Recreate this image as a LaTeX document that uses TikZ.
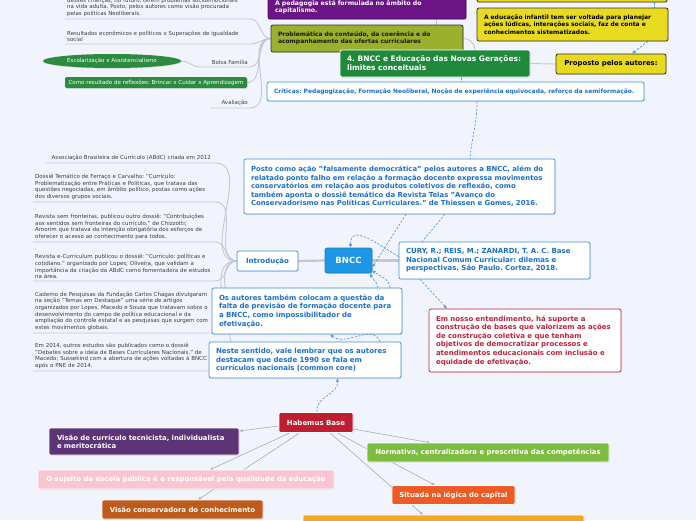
\documentclass[tikz,border=0pt]{standalone}
\usepackage{fontspec}
\setmainfont{DejaVu Sans}
\usepackage{xcolor}
\usepackage{tikz}
\usetikzlibrary{arrows.meta, positioning, shapes.geometric, shadows, backgrounds}

\definecolor{bgpage}{HTML}{F1F4FC}
\definecolor{txtgrey}{HTML}{3C3C3C}
\definecolor{linegrey}{HTML}{C3C7D0}
\definecolor{arrowgrey}{HTML}{A9ADB5}
\definecolor{linkblue}{HTML}{5A9BE0}
\definecolor{boxblue}{HTML}{3C8EE0}
\definecolor{txtblue}{HTML}{1A6FD0}
\definecolor{bnccblue}{HTML}{1E96E8}
\definecolor{secgreen}{HTML}{1F8A3B}
\definecolor{olive}{HTML}{9BB02C}
\definecolor{pedapurple}{HTML}{6B1486}
\definecolor{yel}{HTML}{E8DA1E}
\definecolor{redtxt}{HTML}{C0233B}
\definecolor{habred}{HTML}{BE1E2D}
\definecolor{vispurple}{HTML}{5D3577}
\definecolor{pinkbox}{HTML}{F8C6D2}
\definecolor{consbrown}{HTML}{BF5A1D}
\definecolor{normgreen}{HTML}{7DBC41}
\definecolor{sitorange}{HTML}{EE5A24}
\definecolor{ylworange}{HTML}{F6A623}
\definecolor{ellgreen}{HTML}{2C8B3E}

\frenchspacing

\begin{document}
\begin{tikzpicture}[
        x=1pt,
        y=-1pt,
        item/.style={font=\fontsize{5.5}{6.7}\selectfont,text=txtgrey,align=left,inner xsep=2pt,inner ysep=2pt,anchor=south west},
        branch/.style={draw=linegrey,line width=0.9pt},
        trunk/.style={draw=linegrey,line width=2.2pt},
        link/.style={draw=linkblue,line width=0.7pt,dash pattern=on 2.2pt off 1.6pt},
        linkarrow/.style={link,-{Latex[length=3.5pt,width=3.5pt]}},
        harrow/.style={draw=arrowgrey,line width=0.6pt,-{Latex[length=3pt,width=3pt]}},
        boxshadow/.style={drop shadow={shadow xshift=0.7pt,shadow yshift=-0.7pt,opacity=0.25}},
        box/.style={rounded corners=2pt,line width=0.7pt,align=left,inner xsep=7pt,inner ysep=2pt,boxshadow},
        bluebox/.style={box,draw=boxblue,fill=white,text=txtblue,font=\bfseries\fontsize{7}{8.6}\selectfont},
        darkbox/.style={box,draw=black!80,line width=0.8pt,font=\bfseries\fontsize{6}{7.4}\selectfont},
        solidbox/.style={rounded corners=1.5pt,draw=white,line width=0.6pt,text=white,align=center,inner sep=0pt,minimum height=19pt,font=\bfseries\fontsize{6.9}{8}\selectfont,boxshadow}
    ]
        \useasboundingbox (0,0) rectangle (696,520);

        % upper block: BNCC e educacao das novas geracoes
        \node[item,text width=181pt] (neo) at (65,19) {desses crianças, no futuro, terem problemas socioemocionais\\na vida adulta. Posto, pelos autores como visão procurada\\pelas políticas Neoliberais.};
        \node[item,text width=181pt] (res) at (65,44) {Resultados econômicos e políticos x Superações de igualdade\\social};
        \node[item,anchor=south east] (bolsa) at (250,67) {Bolsa Família};
        \node[ellipse,fill=ellgreen,text=white,minimum width=138pt,minimum height=14pt,inner sep=0pt,font=\fontsize{5.5}{6.7}\selectfont,boxshadow] (esc) at (112,61) {Escolarização x Assistencialismo};
        \node[rounded corners=1.5pt,fill=ellgreen,text=white,minimum width=182pt,minimum height=11pt,inner sep=0pt,font=\fontsize{5.55}{6.7}\selectfont,boxshadow] (brincar) at (156,82.5) {Como resultado de reflexões: Brincar x Cuidar x Aprendizagem};
        \node[item,anchor=south east] (aval) at (250,108) {Avaliação};

        \node[darkbox,fill=pedapurple,text=white,draw=pedapurple!70!black,text width=184pt,minimum height=24pt,font=\bfseries\fontsize{6.2}{7.6}\selectfont] (peda) at (367,7) {A pedagogia está formulada no âmbito do\\capitalismo.};
        \node[darkbox,fill=olive,text=black!90,text width=178pt,minimum height=27pt] (prob) at (367,38.5) {Problemática do conteúdo, da coerência e do\\acompanhamento das ofertas curriculares};
        \node[box,fill=secgreen,draw=white,text=white,text width=176pt,minimum height=27pt,font=\bfseries\fontsize{7.5}{9}\selectfont] (sec) at (435,63.5) {4. BNCC e Educação das Novas Gerações:\\limites conceituais};
        \node[darkbox,fill=yel,text width=176pt,minimum height=20pt] (yelA) at (572,-8) {};
        \node[darkbox,fill=yel,text width=177pt,minimum height=33pt,font=\bfseries\fontsize{6}{7.3}\selectfont] (yelB) at (572.5,24.5) {A educação infantil tem ser voltada para planejar\\ações lúdicas, interações sociais, faz de conta e\\conhecimentos sistematizados.};
        \node[darkbox,fill=yel,align=center,inner xsep=0pt,minimum width=110pt,minimum height=20pt,font=\bfseries\fontsize{6.9}{8}\selectfont] (prop) at (611,64) {Proposto pelos autores:};
        \node[bluebox,text width=363pt,minimum height=19pt,font=\bfseries\fontsize{5.95}{7}\selectfont] (crit) at (455.5,91.5) {Críticas: Pedagogização, Formação Neoliberal, Noção de experiência equivocada, reforço da semiformação.};

        % BNCC e seus topicos
        \node[bluebox,text width=297pt,minimum height=55pt,font=\bfseries\fontsize{6.9}{8.4}\selectfont] (posto) at (399.5,186.5) {Posto como ação "falsamente democrática" pelos autores a BNCC, além do\\relatado ponto falho em relação a formação docente expressa movimentos\\conservatórios em relação aos produtos coletivos de reflexão, como\\também aponta o dossiê temático da Revista Telas "Avanço do\\Conservadorismo nas Políticas Curriculares." de Thiessen e Gomes, 2016.};
        \node[rounded corners=2pt,fill=bnccblue,draw=bnccblue!85!black,line width=0.6pt,text=white,minimum width=47pt,minimum height=25pt,inner sep=0pt,font=\bfseries\fontsize{8.5}{10}\selectfont,boxshadow] (bncc) at (348.5,260.5) {BNCC};
        \node[bluebox,align=center,inner xsep=0pt,minimum width=61pt,minimum height=20pt] (intro) at (267.5,261) {Introdução};
        \node[bluebox,text width=177pt,minimum height=37pt,font=\bfseries\fontsize{7}{8.4}\selectfont] (cury) at (494.5,260.5) {CURY, R.; REIS, M.; ZANARDI, T. A. C. Base\\Nacional Comum Curricular: dilemas e\\perspectivas. São Paulo. Cortez, 2018.};
        \node[bluebox,text width=176pt,minimum height=46pt] (autores) at (307,311) {Os autores também colocam a questão da\\falta de previsão de formação docente para\\a BNCC, como impossibilitador de\\efetivação.};
        \node[bluebox,text width=178pt,minimum height=36pt] (neste) at (305,360) {Neste sentido, vale lembrar que os autores\\destacam que desde 1990 se fala em\\currículos nacionais (common core)};
        \node[bluebox,draw=redtxt,text=redtxt,text width=178pt,minimum height=63pt] (red) at (525,340.5) {Em nosso entendimento, há suporte a\\construção de bases que valorizem as ações\\de construção coletiva e que tenham\\objetivos de democratizar processos e\\atendimentos educacionais com inclusão e\\equidade de efetivação.};

        \node[item,anchor=south east,inner xsep=4pt] (abdc) at (215,163) {Associação Brasileira de Currículo (ABdC) criada em 2012};
        \node[item,text width=178pt] (dossie) at (33,202) {Dossiê Temático de Ferraço e Carvalho: "Currículo:\\Problematização entre Práticas e Políticas, que tratava das\\questões negociadas, em âmbito político, postas como ações\\dos diversos grupos sociais.};
        \node[item,text width=178pt] (fronteiras) at (33,242) {Revista sem fronteiras, publicou outro dossiê: "Contribuições\\aos sentidos sem fronteiras do currículo." de Chizzotti;\\Amorim que tratava da intenção obrigatória dos esforços de\\oferecer o acesso ao conhecimento para todos.};
        \node[item,text width=178pt] (ecurr) at (33,281) {Revista e-Curriculum publicou o dossiê: "Currículo: políticas e\\cotidiano." organizado por Lopes; Oliveira, que validam a\\importância da criação da ABdC como fomentadora de estudos\\na área.};
        \node[item,text width=178pt] (caderno) at (33,333) {Caderno de Pesquisas da Fundação Carlos Chagas divulgaram\\na seção "Temas em Destaque" uma série de artigos\\organizados por Lopes, Macedo e Souza que tratavam sobre o\\desenvolvimento do campo de política educacional e da\\ampliação do controle estatal e as pesquisas que surgem com\\estes movimentos globais.};
        \node[item,text width=178pt] (em2014) at (33,371) {Em 2014, outros estudos são publicados como o dossiê\\"Debates sobre a ideia de Bases Curriculares Nacionais." de\\Macedo; Sussekind com a abertura de ações voltadas à BNCC\\após o PNE de 2014.};

        % Habemus Base
        \node[solidbox,fill=habred,minimum width=74pt,minimum height=20pt,font=\bfseries\fontsize{7}{8}\selectfont] (hab) at (316,422.5) {Habemus Base};
        \node[solidbox,fill=vispurple,align=left,inner xsep=8pt,text width=174pt,minimum height=27pt,font=\bfseries\fontsize{6.9}{8.2}\selectfont] (vis) at (144,441.5) {Visão de currículo tecnicista, individualista\\e meritocrática};
        \node[solidbox,fill=pinkbox,minimum width=296pt] (pink) at (186,479.5) {O sujeito da escola pública é o responsável pela qualidade da educação};
        \node[solidbox,fill=consbrown,minimum width=161pt] (cons) at (182.5,509.5) {Visão conservadora do conhecimento};
        \node[solidbox,fill=normgreen,minimum width=242pt] (norm) at (488,452.5) {Normativa, centralizadora e prescritiva das competências};
        \node[solidbox,fill=sitorange,minimum width=123pt] (sit) at (453.5,495) {Situada na lógica do capital};
        \node[solidbox,fill=ylworange,minimum width=281pt,minimum height=20pt] (ylw) at (443.5,525) {};

        \begin{scope}[on background layer]
            \fill[bgpage] (0,0) rectangle (696,520);

            \draw[branch] (neo.south west) -- (neo.south east) to[out=0,in=180] (prob.west);
            \draw[branch] (res.south west) -- (res.south east) to[out=0,in=180] (prob.west);
            \draw[branch] (esc.east) to[out=0,in=180] ([xshift=-50pt]bolsa.south east) -- (bolsa.south east) to[out=0,in=180] (prob.west);
            \draw[branch] (brincar.east) to[out=0,in=180] (prob.west);
            \draw[branch] ([xshift=-40pt]aval.south east) -- (aval.south east) to[out=0,in=180] (prob.west);
            \draw[branch] (prob.east) to[out=0,in=90] ([xshift=40pt]sec.north);
            \draw[branch] ([xshift=1pt]sec.north) -- ([xshift=1pt]sec.north |- peda.south);
            \draw[branch] (sec.east) -- (prop.west);

            \draw[trunk] (intro.east) -- (bncc.west);
            \draw[trunk] (bncc.east) -- (cury.west);
            \draw[branch] ([xshift=-170pt]abdc.south east) -- (abdc.south east) to[out=0,in=180] (intro.west);
            \draw[branch] (dossie.south west) -- (dossie.south east) to[out=0,in=180] (intro.west);
            \draw[branch] (fronteiras.south west) -- (fronteiras.south east) to[out=0,in=180] (intro.west);
            \draw[branch] (ecurr.south west) -- (ecurr.south east) to[out=0,in=180] (intro.west);
            \draw[branch] (caderno.south west) -- (caderno.south east) to[out=0,in=180] (intro.west);
            \draw[branch] (em2014.south west) -- (em2014.south east) to[out=0,in=180] (intro.west);

            % ligacoes tracejadas
            \draw[link] ([xshift=82pt]yelA.south) -- ([xshift=81.5pt]yelB.north);
            \draw[linkarrow] ([xshift=75.5pt]yelB.south) -- ([xshift=21pt]prop.north);
            \draw[link] ([xshift=26pt]sec.south) -- ([xshift=5.5pt]crit.north);
            \draw[link] ([xshift=21.5pt]crit.south) to[out=-90,in=85] ([xshift=70.5pt]posto.north);
            \draw[linkarrow] ([xshift=6.5pt]posto.south) -- ([yshift=6pt]bncc.south east);
            \draw[link] ([xshift=45.5pt]posto.south) -- ([xshift=-72.5pt]cury.north);
            \draw[linkarrow] ([yshift=4pt]cury.west) to[out=150,in=90,looseness=1.3] ([xshift=2pt]bncc.north);
            \draw[linkarrow] ([xshift=71pt]autores.north) to[out=100,in=-70] ([xshift=-2pt]bncc.south east);
            \draw[linkarrow] ([xshift=83pt]autores.north) to[out=95,in=-40] ([yshift=3pt]bncc.south east);
            \draw[linkarrow] ([xshift=-74.5pt]cury.south) -- ([xshift=-78pt]red.north);
            \draw[linkarrow] ([xshift=75pt]neste.north) to[out=110,in=-40] ([xshift=23pt]autores.south);
            \draw[linkarrow] ([xshift=1pt]hab.north) to[out=100,in=-80] ([xshift=32pt]neste.south);

            \draw[harrow] ([yshift=-3.5pt]hab.west) -- ([yshift=10.5pt]vis.east);
            \draw[harrow] ([xshift=-26pt]hab.south) -- ([xshift=24pt]pink.north);
            \draw[harrow] ([xshift=-16pt]hab.south) -- ([xshift=15.5pt]cons.north);
            \draw[harrow] ([yshift=-6.5pt]hab.east) -- ([xshift=-58pt]norm.north);
            \draw[harrow] ([xshift=21pt]hab.south) -- ([xshift=-18.5pt]sit.north);
            \draw[harrow] ([xshift=14pt]hab.south) -- ([xshift=-20.5pt]ylw.north);
        \end{scope}
    \end{tikzpicture}
\end{document}
